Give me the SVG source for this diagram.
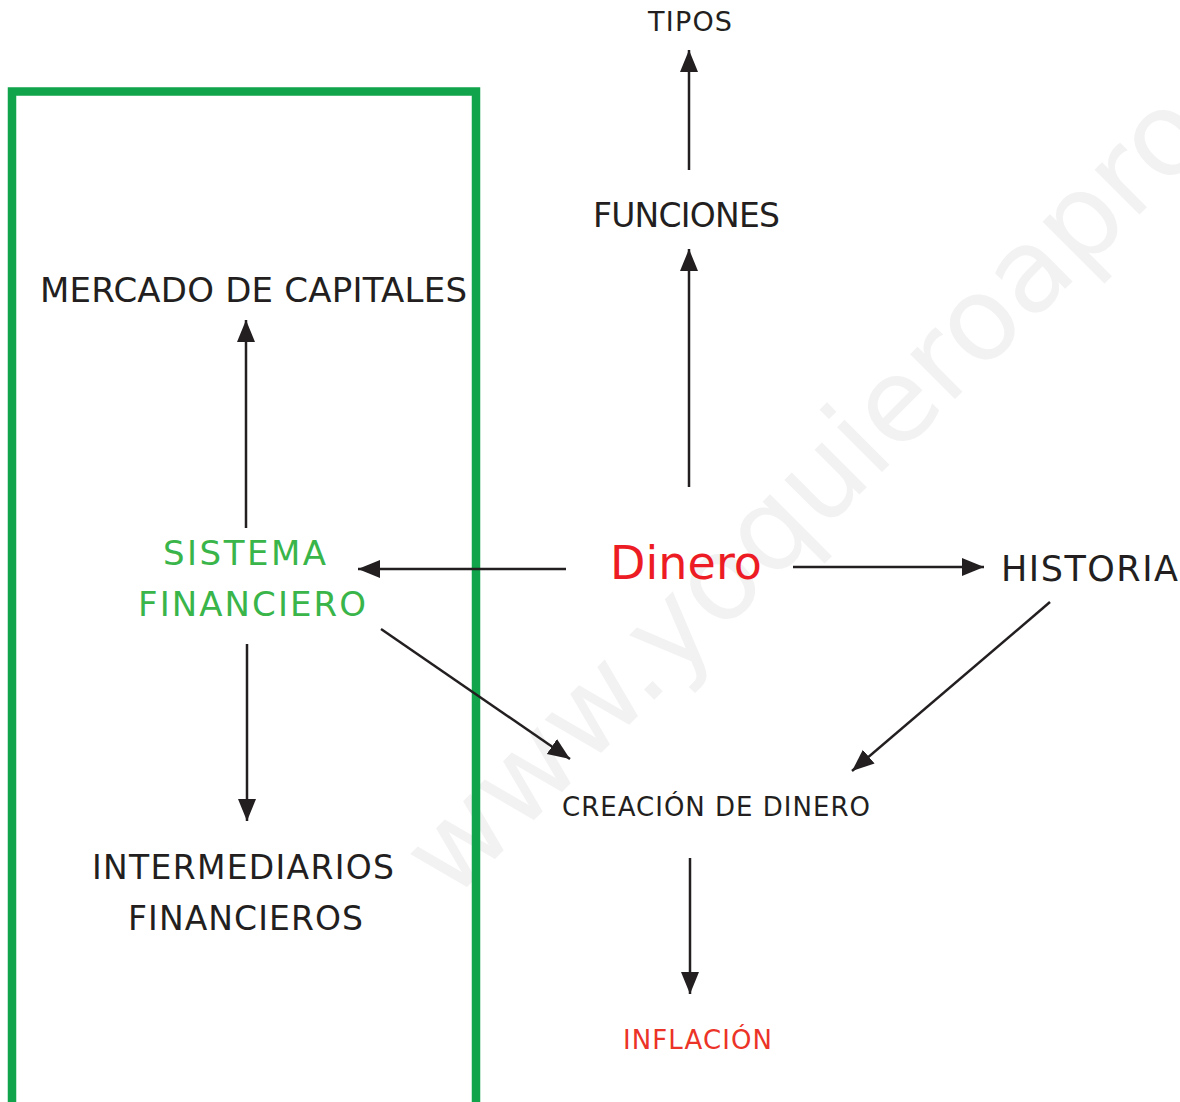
<svg xmlns="http://www.w3.org/2000/svg" width="1180" height="1102" viewBox="0 0 1180 1102">
<defs>
<style>
.t{font-family:"DejaVu Sans","Verdana",sans-serif;fill:#231f20}
.c{stroke:#231f20;stroke-width:2.5;fill:none;marker-end:url(#ah)}
.g{fill:#39b54a}
.wm{font-family:"DejaVu Sans",sans-serif;fill:#f2f2f2;font-size:116px}
</style>
<marker id="ah" markerUnits="userSpaceOnUse" markerWidth="24" markerHeight="20" refX="22" refY="9" orient="auto" viewBox="0 0 24 18">
<path d="M0,0 L22,9 L0,18 Z" fill="#231f20"/>
</marker>
</defs>
<rect width="1180" height="1102" fill="#ffffff"/>
<g id="watermark" transform="translate(666,688) rotate(-45)">
<text class="wm" x="-303" y="0">www.yoquieroapro</text>
</g>
<rect id="frame" x="12" y="91.5" width="464" height="1020" fill="none" stroke="#11a44a" stroke-width="8.5"/>
<g id="connectors">
<line class="c" x1="689" y1="170" x2="689" y2="50"/>
<line class="c" x1="689" y1="487" x2="689" y2="249"/>
<line class="c" x1="246" y1="528" x2="246" y2="320"/>
<line class="c" x1="566" y1="569" x2="358" y2="569"/>
<line class="c" x1="793" y1="567" x2="984" y2="567"/>
<line class="c" x1="247" y1="644" x2="247" y2="821"/>
<line class="c" x1="381" y1="629" x2="570" y2="759"/>
<line class="c" x1="1050" y1="602" x2="852" y2="771"/>
<line class="c" x1="690" y1="858" x2="690" y2="994"/>
</g>
<g id="tipos"><text class="t" x="648" y="31" font-size="27" textLength="84" lengthAdjust="spacing">TIPOS</text></g>
<g id="funciones"><text class="t" x="593" y="227" font-size="33" textLength="187" lengthAdjust="spacing">FUNCIONES</text></g>
<g id="mercado"><text class="t" x="40" y="302" font-size="34" textLength="427" lengthAdjust="spacing">MERCADO DE CAPITALES</text></g>
<g id="sistema"><text class="t g" x="163" y="565" font-size="34" textLength="163" lengthAdjust="spacing">SISTEMA</text><text class="t g" x="138" y="616" font-size="34" textLength="228" lengthAdjust="spacing">FINANCIERO</text></g>
<g id="dinero"><text class="t" x="610" y="579" font-size="46" textLength="152" lengthAdjust="spacing" style="fill:#ed1c24">Dinero</text></g>
<g id="historia"><text class="t" x="1001" y="581" font-size="35" textLength="177" lengthAdjust="spacing">HISTORIA</text></g>
<g id="creacion"><text class="t" x="562" y="816" font-size="26" textLength="308" lengthAdjust="spacing">CREACIÓN DE DINERO</text></g>
<g id="inflacion"><text class="t" x="623" y="1049" font-size="26" textLength="149" lengthAdjust="spacing" style="fill:#ec3327">INFLACIÓN</text></g>
<g id="intermediarios"><text class="t" x="92" y="879" font-size="33" textLength="302" lengthAdjust="spacing">INTERMEDIARIOS</text><text class="t" x="128" y="930" font-size="33" textLength="235" lengthAdjust="spacing">FINANCIEROS</text></g>
</svg>
